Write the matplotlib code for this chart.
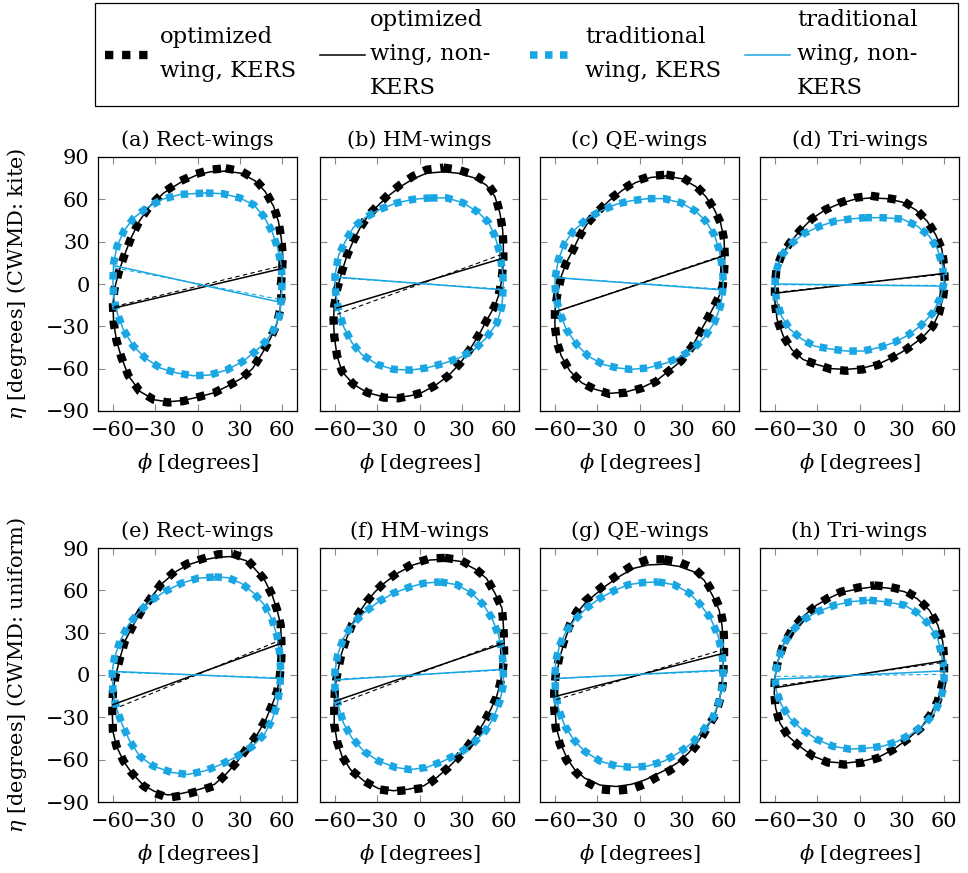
import numpy as np
import matplotlib
matplotlib.use('Agg')
import matplotlib.pyplot as plt
from matplotlib.lines import Line2D
from matplotlib.patches import Rectangle

plt.rcParams['font.family'] = ['DejaVu Serif']
plt.rcParams['mathtext.fontset'] = 'dejavuserif'
plt.rcParams['font.size'] = 15

BLUE = '#19A6E3'

panel_titles = ['(a) Rect-wings', '(b) HM-wings', '(c) QE-wings', '(d) Tri-wings',
                '(e) Rect-wings', '(f) HM-wings', '(g) QE-wings', '(h) Tri-wings']
row_labels = [r'$\eta$ [degrees] (CWMD: kite)', r'$\eta$ [degrees] (CWMD: uniform)']
x_label = r'$\phi$ [degrees]'
series_labels = ['optimized\nwing, KERS', 'optimized\nwing, non-\nKERS',
                 'traditional\nwing, KERS', 'traditional\nwing, non-\nKERS']
phi_ticks = [-60, -30, 0, 30, 60]
eta_ticks = [-90, -60, -30, 0, 30, 60, 90]

# ---------------- (a) Rect-wings, kite ----------------
a_opt_kers = [(20, 82), (31, 80), (41, 74), (48, 66), (54, 55), (57.5, 44), (59.5, 32), (60.5, 20), (60, 8), (59, -2),
              (59.5, -10), (58.5, -19), (56, -29), (52, -38), (46, -49), (39, -60), (31, -67), (22, -72), (12, -77),
              (1, -80), (-10, -83), (-21, -84), (-31, -82), (-41, -76), (-49, -65), (-54, -52), (-57.5, -40),
              (-59.5, -27), (-60, -15), (-59, -4), (-56, 8), (-52, 20), (-47, 33), (-41, 45), (-34, 55), (-24, 65),
              (-12, 73), (-1, 78), (9, 81)]
a_opt_non = [(20, 80), (31, 78.5), (41, 73), (48, 65.5), (54, 55), (57.5, 44), (59.5, 32), (60.5, 20), (60, 8), (59, -2),
             (59.5, -10), (58.5, -19), (56, -29), (52, -38), (46, -49), (39, -60), (31, -67), (22, -72), (12, -77),
             (1, -80), (-10, -82.5), (-21, -83.5), (-31, -82), (-41, -76), (-49, -65), (-54, -52), (-57.5, -40),
             (-59.5, -27), (-60, -15), (-59, -4), (-56, 8), (-52, 20), (-47, 33), (-41, 45), (-34, 55), (-24, 64.5),
             (-12, 72), (-1, 77), (9, 79.5)]
a_trad_kers = [(6, 64.5), (18, 64), (30, 61), (40, 56), (47, 48), (53, 37), (57, 25), (59.5, 13), (60, 1), (59.5, -11),
               (58, -23), (54.5, -32), (49, -40), (42, -47), (32, -55), (20.5, -61), (8.5, -64.5), (-3, -65),
               (-15, -63), (-26.5, -59.5), (-37, -52.5), (-45.5, -44), (-52.5, -32.5), (-57, -20.5), (-59.5, -9),
               (-60, 3), (-59.5, 15), (-57, 27), (-52, 38), (-45, 47), (-36, 54), (-25, 60), (-12, 63.5)]
a_trad_non = [(6, 64.5), (18, 64), (30, 61), (40, 56), (47, 48), (53, 37), (57, 25), (59.5, 13), (60, 1), (59.5, -11),
              (58, -23), (54.5, -32), (49, -40), (42, -47), (32, -55), (20.5, -61), (8.5, -64.5), (-3, -65),
              (-15, -63), (-26.5, -59.5), (-37, -52.5), (-45.5, -44), (-52.5, -32.5), (-57, -20.5), (-59.5, -9),
              (-60, 3), (-59.5, 15), (-57, 27), (-52, 38), (-45, 47), (-36, 54), (-25, 60), (-12, 63.5)]
a_opt_kers_axis = [(-59, -16), (60, 13)]
a_opt_non_axis = [(-59, -17), (60, 11)]
a_trad_kers_axis = [(-59, 11.5), (59, -11)]
a_trad_non_axis = [(-59, 13), (59, -13)]

# ---------------- (b) HM-wings, kite ----------------
b_opt_kers = [(17, 82.5), (27.5, 81), (39.5, 77), (47.5, 72), (53.5, 63.5), (57, 50.5), (59, 38.5), (59.5, 27),
              (59.5, 15), (58, 1), (56, -8.5), (53.5, -15.5), (47.5, -26), (43, -34.5), (36, -46), (29, -56),
              (20.5, -65), (11, -72), (1.5, -77), (-5.5, -79), (-15, -81), (-25.5, -80.5), (-37, -77), (-47, -71),
              (-55, -62), (-58.5, -51), (-60.5, -37), (-61, -25), (-60.5, -15.5), (-58.5, -4), (-55, 9), (-51.5, 20),
              (-47, 30.5), (-42, 40), (-36, 49), (-28, 57.5), (-22, 63.5), (-13.5, 70.5), (-4.5, 76.5), (5, 81)]
b_opt_non = [(17, 79.5), (27.5, 78.5), (39.5, 75), (47.5, 70), (53.5, 62), (57, 50.5), (59, 38.5), (59.5, 27),
             (59.5, 15), (58, 1), (56, -8.5), (53.5, -15.5), (47.5, -26), (43, -34.5), (36, -46), (29, -56),
             (20.5, -65), (11, -72), (1.5, -77), (-5.5, -79), (-15, -80.5), (-25.5, -80), (-37, -77), (-47, -71),
             (-55, -62), (-58.5, -51), (-60.5, -37), (-61, -25), (-60.5, -15.5), (-58.5, -4), (-55, 9), (-51.5, 20),
             (-47, 30.5), (-42, 40), (-36, 49), (-28, 57), (-22, 62.5), (-13.5, 69), (-4.5, 74.5), (5, 78.5)]
b_trad_kers = [(7.5, 61), (19.5, 61), (31, 57.5), (42, 50.5), (49, 43.5), (53.5, 34), (57, 22), (59, 8), (59.5, -1.5),
               (58.5, -15.5), (55, -27.5), (47.5, -38), (39.5, -46), (29, -52), (18, -56), (5, -59.5), (-6.5, -61),
               (-18.5, -60.5), (-30, -57), (-41, -50), (-48, -41.5), (-54, -30), (-57.5, -18), (-59.5, -6),
               (-60, 5.5), (-57.5, 20), (-52.5, 30.5), (-47, 40), (-38.5, 47), (-28, 53), (-16, 57.5), (-4.5, 60)]
b_trad_non = [(7.5, 61), (19.5, 61), (31, 57.5), (42, 50.5), (49, 43.5), (53.5, 34), (57, 22), (59, 8), (59.5, -1.5),
              (58.5, -15.5), (55, -27.5), (47.5, -38), (39.5, -46), (29, -52), (18, -56), (5, -59.5), (-6.5, -61),
              (-18.5, -60.5), (-30, -57), (-41, -50), (-48, -41.5), (-54, -30), (-57.5, -18), (-59.5, -6),
              (-60, 5.5), (-57.5, 20), (-52.5, 30.5), (-47, 40), (-38.5, 47), (-28, 53), (-16, 57.5), (-4.5, 60)]
b_opt_kers_axis = [(-58.5, -21.5), (58.5, 21)]
b_opt_non_axis = [(-58.5, -17), (60, 18.5)]
b_trad_kers_axis = [(-60, 4.5), (57, -3.5)]
b_trad_non_axis = [(-60, 5), (57, -4)]

# ---------------- (c) QE-wings, kite ----------------
c_opt_kers = [(19, 77.5), (30.5, 75.5), (40, 69.5), (47, 62.5), (53, 53), (57.5, 43.5), (60, 31.5), (60.5, 20), (60, 8),
              (59, -1.5), (56.5, -8.5), (53, -15.5), (48, -25), (43.5, -33), (37.5, -44), (29.5, -54.5), (21, -61.5),
              (12, -69), (2.5, -73.5), (-9.5, -77), (-21, -78), (-32, -74.5), (-41, -70), (-49.5, -61.5),
              (-55.5, -51), (-58.5, -41.5), (-60, -30), (-60, -19), (-58.5, -8.5), (-55.5, 5.5), (-52, 15),
              (-47, 24.5), (-42.5, 34), (-36.5, 43.5), (-29.5, 51.5), (-21, 60), (-12, 67), (-2.5, 73), (8, 76.5)]
c_opt_non = [(19, 76.5), (30.5, 74.5), (40, 69), (47, 62), (53, 53), (57.5, 43.5), (60, 31.5), (60.5, 20), (60, 8),
             (59, -1.5), (56.5, -8.5), (53, -15.5), (48, -25), (43.5, -33), (37.5, -44), (29.5, -54.5), (21, -61.5),
             (12, -68.5), (2.5, -73), (-9.5, -76.5), (-21, -77.5), (-32, -74.5), (-41, -70), (-49.5, -61.5),
             (-55.5, -51), (-58.5, -41.5), (-60, -30), (-60, -19), (-58.5, -8.5), (-55.5, 5.5), (-52, 15),
             (-47, 24.5), (-42.5, 34), (-36.5, 43.5), (-29.5, 51.5), (-21, 59.5), (-12, 66.5), (-2.5, 72), (8, 75.5)]
c_trad_kers = [(6, 60.5), (17.5, 60.5), (29.5, 57.5), (40, 51.5), (47, 44.5), (53, 35), (56.5, 24.5), (59, 10.5),
               (59.5, -1.5), (57.5, -15.5), (53, -27.5), (46, -38), (37.5, -46.5), (28, -52), (19, -56), (6, -59.5),
               (-6, -60.5), (-15.5, -59.5), (-26, -57), (-36.5, -51), (-44.5, -43), (-52, -32), (-56.5, -20.5),
               (-59.5, -8.5), (-60, 3.5), (-57.5, 17.5), (-53, 29), (-47, 37.5), (-37.5, 46), (-28, 51.5),
               (-16.5, 56.5), (-6, 59)]
c_trad_non = [(6, 60.5), (17.5, 60.5), (29.5, 57.5), (40, 51.5), (47, 44.5), (53, 35), (56.5, 24.5), (59, 10.5),
              (59.5, -1.5), (57.5, -15.5), (53, -27.5), (46, -38), (37.5, -46.5), (28, -52), (19, -56), (6, -59.5),
              (-6, -60.5), (-15.5, -59.5), (-26, -57), (-36.5, -51), (-44.5, -43), (-52, -32), (-56.5, -20.5),
              (-59.5, -8.5), (-60, 3.5), (-57.5, 17.5), (-53, 29), (-47, 37.5), (-37.5, 46), (-28, 51.5),
              (-16.5, 56.5), (-6, 59)]
c_opt_kers_axis = [(-59, -19.5), (60, 20.5)]
c_opt_non_axis = [(-59, -19.5), (60, 20)]
c_trad_kers_axis = [(-59, 4.5), (56.5, -3.5)]
c_trad_non_axis = [(-59, 4.5), (56.5, -4)]

# ---------------- (d) Tri-wings, kite ----------------
d_opt_kers = [(8, 62.5), (19, 61), (30.5, 59), (40, 53), (48, 44.5), (54, 35), (58.5, 24.5), (60, 13), (60.5, 1),
              (59.5, -8.5), (56.5, -20.5), (52, -30), (44.5, -38), (33, -46.5), (23.5, -52), (14, -57), (2.5, -60.5),
              (-9.5, -61.5), (-20, -60.5), (-30.5, -57), (-40, -53.5), (-48, -46.5), (-54, -37), (-58.5, -25),
              (-60, -13), (-60, -1.5), (-59, 10.5), (-55.5, 20), (-49.5, 29), (-42.5, 37.5), (-34, 46), (-24.5, 52.5),
              (-14, 57.5), (-3.5, 61)]
d_opt_non = [(8, 61), (19, 60.5), (30.5, 58), (40, 52.5), (48, 44.5), (54, 35), (58.5, 24.5), (60, 13), (60.5, 1),
             (59.5, -8.5), (56.5, -20.5), (52, -30), (44.5, -38), (33, -46.5), (23.5, -52), (14, -56.5), (2.5, -59.5),
             (-9.5, -60.5), (-20, -60), (-30.5, -57), (-40, -53.5), (-48, -46.5), (-54, -37), (-58.5, -25),
             (-60, -13), (-60, -1.5), (-59, 10.5), (-55.5, 20), (-49.5, 29), (-42.5, 37.5), (-34, 46), (-24.5, 52.5),
             (-14, 57), (-3.5, 60)]
d_trad_kers = [(3.5, 47), (16.5, 47), (30.5, 46), (41, 41), (49.5, 34), (55.5, 24.5), (59, 12.5), (60, 1),
               (57.5, -9.5), (52, -20.5), (43.5, -29.5), (34, -36.5), (24.5, -41.5), (14, -45), (2.5, -47.5),
               (-9.5, -47.5), (-21, -46), (-32, -44), (-41, -39), (-49.5, -32), (-55.5, -22.5), (-59, -11),
               (-60, -1.5), (-59.5, 8), (-55.5, 20), (-48, 29), (-39, 36), (-28, 41), (-17.5, 44.5), (-7, 46)]
d_trad_non = [(3.5, 47), (16.5, 47), (30.5, 46), (41, 41), (49.5, 34), (55.5, 24.5), (59, 12.5), (60, 1),
              (57.5, -9.5), (52, -20.5), (43.5, -29.5), (34, -36.5), (24.5, -41.5), (14, -45), (2.5, -47.5),
              (-9.5, -47.5), (-21, -46), (-32, -44), (-41, -39), (-49.5, -32), (-55.5, -22.5), (-59, -11),
              (-60, -1.5), (-59.5, 8), (-55.5, 20), (-48, 29), (-39, 36), (-28, 41), (-17.5, 44.5), (-7, 46)]
d_opt_kers_axis = [(-59.5, -6), (60, 7)]
d_opt_non_axis = [(-59.5, -6.5), (60, 7.5)]
d_trad_kers_axis = [(-59.5, -0.5), (60, -1)]
d_trad_non_axis = [(-59.5, 0), (60, -1.5)]

# ---------------- (e) Rect-wings, uniform ----------------
e_opt_kers = [(25, 86), (34.5, 82.5), (40, 76.5), (47.5, 67.5), (53, 56.5), (56.5, 46), (59, 35.5), (59.5, 24),
              (59.5, 12), (58.5, 0), (56.5, -11.5), (53, -21), (48.5, -31.5), (42.5, -42), (35.5, -51.5),
              (28.5, -61), (20, -70.5), (12, -78.5), (1.5, -82), (-11.5, -85.5), (-21, -87), (-30.5, -83.5),
              (-38.5, -78.5), (-47, -69), (-52.5, -61), (-57.5, -50.5), (-60, -40), (-60.5, -25.5), (-60, -11.5),
              (-58, 0), (-55, 12), (-51.5, 24), (-45.5, 35.5), (-40, 45), (-32.5, 55.5), (-25.5, 65), (-15, 74.5),
              (-7, 79), (4, 82.5), (14.5, 85.5)]
e_opt_non = [(25, 84), (34.5, 81), (40, 76), (47.5, 67.5), (53, 56.5), (56.5, 46), (59, 35.5), (59.5, 24),
             (59.5, 12), (58.5, 0), (56.5, -11.5), (53, -21), (48.5, -31.5), (42.5, -42), (35.5, -51.5),
             (28.5, -61), (20, -70.5), (12, -77.5), (1.5, -81), (-11.5, -84), (-21, -85), (-30.5, -82.5),
             (-38.5, -78), (-47, -69), (-52.5, -61), (-57.5, -50.5), (-60, -40), (-60.5, -25.5), (-60, -11.5),
             (-58, 0), (-55, 12), (-51.5, 24), (-45.5, 35.5), (-40, 45), (-32.5, 55.5), (-25.5, 64.5), (-15, 73.5),
             (-7, 78), (4, 81.5), (14.5, 83.5)]
e_trad_kers = [(12, 69.5), (21.5, 69), (31, 65), (40, 58), (47.5, 49.5), (53, 39), (56.5, 27.5), (58.5, 14.5),
               (59, 2.5), (58.5, -9), (56.5, -21), (53, -31.5), (47.5, -42), (39, -50.5), (28.5, -57.5),
               (16.5, -63.5), (5, -68), (-7, -70.5), (-18.5, -69), (-31.5, -64.5), (-41, -57.5), (-48, -47),
               (-53.5, -35), (-57.5, -23.5), (-60, -11.5), (-60.5, 2.5), (-59, 12), (-55, 24), (-49, 35.5),
               (-42, 44), (-34, 52), (-23.5, 59), (-11.5, 65), (0, 68.5)]
e_trad_non = [(12, 69.5), (21.5, 69), (31, 65), (40, 58), (47.5, 49.5), (53, 39), (56.5, 27.5), (58.5, 14.5),
              (59, 2.5), (58.5, -9), (56.5, -21), (53, -31.5), (47.5, -42), (39, -50.5), (28.5, -57.5),
              (16.5, -63.5), (5, -68), (-7, -70.5), (-18.5, -69), (-31.5, -64.5), (-41, -57.5), (-48, -47),
              (-53.5, -35), (-57.5, -23.5), (-60, -11.5), (-60.5, 2.5), (-59, 12), (-55, 24), (-49, 35.5),
              (-42, 44), (-34, 52), (-23.5, 59), (-11.5, 65), (0, 68.5)]
e_opt_kers_axis = [(-60, -24.5), (59.5, 25)]
e_opt_non_axis = [(-60, -21), (59.5, 22.5)]
e_trad_kers_axis = [(-59, 2), (58, -2)]
e_trad_non_axis = [(-59, 2.5), (58, -2.5)]

# ---------------- (f) HM-wings, uniform ----------------
f_opt_kers = [(18, 83), (29, 81.5), (39.5, 75.5), (47.5, 68.5), (53.5, 58), (58.5, 47.5), (59.5, 35.5), (60, 24),
              (60, 12), (59, 2.5), (57, -7), (54.5, -16), (50, -25.5), (45.5, -34), (40.5, -42), (33.5, -51.5),
              (27.5, -58.5), (20.5, -65.5), (12.5, -72.5), (3, -80), (-8, -81.5), (-18.5, -82.5), (-29, -81),
              (-39.5, -75), (-49, -67), (-55, -57.5), (-58.5, -47), (-60.5, -35), (-60.5, -21), (-60, -9),
              (-58.5, 0), (-55.5, 14.5), (-52.5, 24), (-48, 35.5), (-43, 44), (-37.5, 52), (-31.5, 59),
              (-24.5, 66), (-15, 73), (-4.5, 79), (7.5, 82.5)]
f_opt_non = [(18, 82), (29, 80.5), (39.5, 75), (47.5, 68.5), (53.5, 58), (58.5, 47.5), (59.5, 35.5), (60, 24),
             (60, 12), (59, 2.5), (57, -7), (54.5, -16), (50, -25.5), (45.5, -34), (40.5, -42), (33.5, -51.5),
             (27.5, -58.5), (20.5, -65.5), (12.5, -72.5), (3, -78.5), (-8, -81), (-18.5, -82), (-29, -80.5),
             (-39.5, -75), (-49, -67), (-55, -57.5), (-58.5, -47), (-60.5, -35), (-60.5, -21), (-60, -9),
             (-58.5, 0), (-55.5, 14.5), (-52.5, 24), (-48, 35.5), (-43, 44), (-37.5, 52), (-31.5, 59),
             (-24.5, 65.5), (-15, 72.5), (-4.5, 78), (7.5, 81.5)]
f_trad_kers = [(14.5, 66), (26.5, 64), (37, 58), (45.5, 49.5), (51.5, 40), (56, 28.5), (58.5, 16.5), (59.5, 5),
               (59.5, -7), (57, -18.5), (52.5, -30.5), (46.5, -40), (38.5, -48), (29, -55), (17, -61), (5, -65.5),
               (-6.5, -67), (-17, -65.5), (-29, -61), (-39.5, -54), (-48, -44.5), (-54, -34), (-57.5, -22),
               (-60, -9), (-60, 2.5), (-58, 14.5), (-54, 26), (-48, 35.5), (-39.5, 44), (-29, 52), (-18.5, 58),
               (-6.5, 62.5), (3, 65)]
f_trad_non = [(14.5, 66), (26.5, 64), (37, 58), (45.5, 49.5), (51.5, 40), (56, 28.5), (58.5, 16.5), (59.5, 5),
              (59.5, -7), (57, -18.5), (52.5, -30.5), (46.5, -40), (38.5, -48), (29, -55), (17, -61), (5, -65.5),
              (-6.5, -67), (-17, -65.5), (-29, -61), (-39.5, -54), (-48, -44.5), (-54, -34), (-57.5, -22),
              (-60, -9), (-60, 2.5), (-58, 14.5), (-54, 26), (-48, 35.5), (-39.5, 44), (-29, 52), (-18.5, 58),
              (-6.5, 62.5), (3, 65)]
f_opt_kers_axis = [(-59, -21), (59, 23.5)]
f_opt_non_axis = [(-60, -18.5), (60, 22.5)]
f_trad_kers_axis = [(-59, -3), (59, 3.5)]
f_trad_non_axis = [(-59, -3.5), (59, 4)]

# ---------------- (g) QE-wings, uniform ----------------
g_opt_kers = [(17.5, 82), (28, 80), (39, 75.5), (46, 68.5), (53, 56.5), (57.5, 46), (59.5, 35.5), (60, 24), (60, 12),
              (59.5, 2.5), (59, -7), (57.5, -16), (54, -28), (48, -37.5), (42.5, -47), (35.5, -56), (28, -63.5),
              (21, -68), (12, -72.5), (3.5, -77.5), (-6, -81), (-16.5, -82), (-28, -81), (-39, -75), (-46, -68),
              (-52, -60), (-56.5, -49), (-59.5, -37.5), (-60.5, -23.5), (-60.5, -11.5), (-59.5, 0), (-56.5, 14.5),
              (-53, 26), (-49.5, 35.5), (-44.5, 45), (-39, 52), (-32, 58), (-23.5, 65), (-14, 72), (-4.5, 78),
              (6, 82)]
g_opt_non = [(17.5, 78.5), (28, 77), (39, 73), (46, 67), (52, 56), (56.5, 46), (58.5, 35.5), (59.5, 24), (59.5, 12),
             (59, 2.5), (58.5, -7), (57, -16), (53.5, -28), (47.5, -37.5), (42, -46.5), (35, -55), (28, -61.5),
             (21, -66), (12, -70.5), (3.5, -74.5), (-6, -77.5), (-16.5, -79), (-28, -78), (-39, -73), (-46, -67),
             (-51.5, -59), (-56, -48.5), (-59, -37.5), (-60, -23.5), (-60, -11.5), (-59, 0), (-56, 14.5),
             (-52.5, 26), (-49, 35.5), (-44, 44.5), (-38.5, 51), (-31.5, 57), (-23.5, 63.5), (-14, 70),
             (-4.5, 75.5), (6, 78)]
g_trad_kers = [(13, 66), (24.5, 64), (35.5, 58), (43.5, 49.5), (50.5, 40), (55.5, 28.5), (58.5, 16.5), (59.5, 5),
               (59, -7), (56.5, -18.5), (52, -30.5), (44.5, -40), (37.5, -48), (28, -55), (17.5, -61), (6, -64.5),
               (-4.5, -65.5), (-16.5, -64.5), (-28, -61), (-39, -54), (-47, -45.5), (-53, -36), (-57, -25.5),
               (-59.5, -14), (-60, -2), (-59.5, 9.5), (-56.5, 21.5), (-52, 31), (-46, 39), (-37.5, 47.5),
               (-28, 54.5), (-17.5, 60), (-8, 64), (2.5, 65.5)]
g_trad_non = [(13, 66), (24.5, 64), (35.5, 58), (43.5, 49.5), (50.5, 40), (55.5, 28.5), (58.5, 16.5), (59.5, 5),
              (59, -7), (56.5, -18.5), (52, -30.5), (44.5, -40), (37.5, -48), (28, -55), (17.5, -61), (6, -64.5),
              (-4.5, -65.5), (-16.5, -64.5), (-28, -61), (-39, -54), (-47, -45.5), (-53, -36), (-57, -25.5),
              (-59.5, -14), (-60, -2), (-59.5, 9.5), (-56.5, 21.5), (-52, 31), (-46, 39), (-37.5, 47.5),
              (-28, 54.5), (-17.5, 60), (-8, 64), (2.5, 65.5)]
g_opt_kers_axis = [(-59, -17.5), (59, 18)]
g_opt_non_axis = [(-59, -15), (60, 15.5)]
g_trad_kers_axis = [(-60, -2.5), (60, 3)]
g_trad_non_axis = [(-60, -2.5), (60, 3.5)]

# ---------------- (h) Tri-wings, uniform ----------------
h_opt_kers = [(10.5, 63.5), (21, 62.5), (32, 60), (41, 54.5), (49.5, 46), (55.5, 35.5), (59, 24), (60, 12), (60, 0),
              (58, -9), (55.5, -18.5), (50.5, -28), (43.5, -37.5), (34, -45.5), (24.5, -52.5), (14, -58.5),
              (2.5, -62), (-10.5, -63.5), (-22.5, -62), (-33, -57.5), (-42.5, -50.5), (-50.5, -43.5), (-56.5, -34),
              (-59.5, -23.5), (-60.5, -12.5), (-60, -2), (-58, 9.5), (-54, 21.5), (-48, 32), (-40, 41.5),
              (-30.5, 49.5), (-22.5, 54.5), (-13, 59), (-1, 62)]
h_opt_non = [(10.5, 62.5), (21, 61.5), (32, 59), (41, 54), (49.5, 46), (55.5, 35.5), (59, 24), (60, 12), (60, 0),
             (58, -9), (55.5, -18.5), (50.5, -28), (43.5, -37.5), (34, -45.5), (24.5, -52.5), (14, -58),
             (2.5, -61), (-10.5, -62.5), (-22.5, -61.5), (-33, -57.5), (-42.5, -50.5), (-50.5, -43.5), (-56.5, -34),
             (-59.5, -23.5), (-60.5, -12.5), (-60, -2), (-58, 9.5), (-54, 21.5), (-48, 32), (-40, 41.5),
             (-30.5, 49.5), (-22.5, 54), (-13, 58.5), (-1, 61)]
h_trad_kers = [(7, 53), (17.5, 52), (32, 49.5), (41, 44), (49.5, 35.5), (55.5, 26), (58, 15.5), (60, 5), (60, -7),
               (57.5, -17.5), (53, -27), (46, -35), (36.5, -42), (27, -47), (16.5, -50.5), (4.5, -52), (-7, -52.5),
               (-19, -50.5), (-30.5, -45.5), (-41, -38.5), (-49.5, -30.5), (-55.5, -21), (-59, -11.5), (-60, -1),
               (-58, 9.5), (-54, 21.5), (-48, 31), (-40, 39), (-29.5, 45), (-17.5, 49.5), (-6, 52)]
h_trad_non = [(7, 53), (17.5, 52), (32, 49.5), (41, 44), (49.5, 35.5), (55.5, 26), (58, 15.5), (60, 5), (60, -7),
              (57.5, -17.5), (53, -27), (46, -35), (36.5, -42), (27, -47), (16.5, -50.5), (4.5, -52), (-7, -52.5),
              (-19, -50.5), (-30.5, -45.5), (-41, -38.5), (-49.5, -30.5), (-55.5, -21), (-59, -11.5), (-60, -1),
              (-58, 9.5), (-54, 21.5), (-48, 31), (-40, 39), (-29.5, 45), (-17.5, 49.5), (-6, 52)]
h_opt_kers_axis = [(-60, -8), (60, 9)]
h_opt_non_axis = [(-60, -9), (60, 10)]
h_trad_kers_axis = [(-59, -1), (61, 0.5)]
h_trad_non_axis = [(-59, -3), (61, 3)]

panels = [
    (a_opt_kers, a_opt_non, a_trad_kers, a_trad_non, a_opt_kers_axis, a_opt_non_axis, a_trad_kers_axis, a_trad_non_axis),
    (b_opt_kers, b_opt_non, b_trad_kers, b_trad_non, b_opt_kers_axis, b_opt_non_axis, b_trad_kers_axis, b_trad_non_axis),
    (c_opt_kers, c_opt_non, c_trad_kers, c_trad_non, c_opt_kers_axis, c_opt_non_axis, c_trad_kers_axis, c_trad_non_axis),
    (d_opt_kers, d_opt_non, d_trad_kers, d_trad_non, d_opt_kers_axis, d_opt_non_axis, d_trad_kers_axis, d_trad_non_axis),
    (e_opt_kers, e_opt_non, e_trad_kers, e_trad_non, e_opt_kers_axis, e_opt_non_axis, e_trad_kers_axis, e_trad_non_axis),
    (f_opt_kers, f_opt_non, f_trad_kers, f_trad_non, f_opt_kers_axis, f_opt_non_axis, f_trad_kers_axis, f_trad_non_axis),
    (g_opt_kers, g_opt_non, g_trad_kers, g_trad_non, g_opt_kers_axis, g_opt_non_axis, g_trad_kers_axis, g_trad_non_axis),
    (h_opt_kers, h_opt_non, h_trad_kers, h_trad_non, h_opt_kers_axis, h_opt_non_axis, h_trad_kers_axis, h_trad_non_axis),
]

W, H = 968, 873
fig = plt.figure(figsize=(W / 100, H / 100), dpi=100)

col_left_px = [98, 320, 540, 760]
row_top_px = [157, 548]
ax_w_px, ax_h_px = 199, 254

DOT_K = dict(color='black', lw=6.0, ls=(0, (1, 1.05)), dash_capstyle='butt')
DOT_B = dict(color=BLUE, lw=5.4, ls=(0, (1, 1.0)), dash_capstyle='butt')
SOLID_K = dict(color='black', lw=1.1)
SOLID_B = dict(color=BLUE, lw=1.1)
DASH_K = dict(color='black', lw=0.8, ls=(0, (4, 3)))
DASH_B = dict(color=BLUE, lw=0.8, ls=(0, (4, 3)))


def closed(pts):
    arr = np.asarray(pts, dtype=float)
    return np.vstack([arr, arr[:1]])


for i, data in enumerate(panels):
    r, c = divmod(i, 4)
    left = col_left_px[c] / W
    bottom = (H - row_top_px[r] - ax_h_px) / H
    ax = fig.add_axes([left, bottom, ax_w_px / W, ax_h_px / H])
    opt_kers, opt_non, trad_kers, trad_non, opt_kers_ax, opt_non_ax, trad_kers_ax, trad_non_ax = data

    p = closed(opt_non)
    ax.plot(p[:, 0], p[:, 1], **SOLID_K)
    p = closed(opt_kers)
    ax.plot(p[:, 0], p[:, 1], **DOT_K)
    p = closed(trad_non)
    ax.plot(p[:, 0], p[:, 1], **SOLID_B)
    p = closed(trad_kers)
    ax.plot(p[:, 0], p[:, 1], **DOT_B)

    for seg, sty in ((opt_non_ax, SOLID_K), (opt_kers_ax, DASH_K), (trad_non_ax, SOLID_B), (trad_kers_ax, DASH_B)):
        s = np.asarray(seg, dtype=float)
        ax.plot(s[:, 0], s[:, 1], **sty)

    ax.set_xlim(-70.6, 70.6)
    ax.set_ylim(-90, 90)
    ax.set_xticks(phi_ticks)
    ax.set_yticks(eta_ticks)
    ax.tick_params(direction='in', length=5, width=0.8, color='#8c8c8c', labelcolor='black',
                   top=True, right=True, labelsize=15)
    ax.tick_params(axis='x', pad=7)
    ax.tick_params(axis='y', pad=6)
    for sp in ax.spines.values():
        sp.set_linewidth(0.9)
        sp.set_color('black')
    if c != 0:
        ax.tick_params(labelleft=False)
    else:
        ax.set_ylabel(row_labels[r], fontsize=15)
        ax.yaxis.set_label_coords(-0.345, 0.5)
    ax.set_xlabel(x_label, fontsize=15, labelpad=8)
    ax.set_title(panel_titles[i], fontsize=15, pad=8)

# legend: one framed box with four fixed-width cells
handles = [Line2D([], [], **DOT_K), Line2D([], [], **SOLID_K),
           Line2D([], [], **DOT_B), Line2D([], [], **SOLID_B)]
entry_x_px = [105, 320, 530, 745]
entry_pad = [0.44, 0.2, 0.44, 0.3]
LEG_FS = 16.3
fig.add_artist(Rectangle((95 / W, 1 - 106 / H), 863 / W, 103 / H, transform=fig.transFigure,
                         fill=False, lw=0.9, ec='black'))
for h, lab, xp, pad in zip(handles, series_labels, entry_x_px, entry_pad):
    lg = fig.legend([h], [lab], loc='center left', bbox_to_anchor=(xp / W, 1 - 54 / H),
                    frameon=False, fontsize=LEG_FS, handlelength=2.0, handletextpad=pad,
                    borderpad=0, borderaxespad=0)
    for t in lg.get_texts():
        t.set_linespacing(1.72)

fig.savefig('out.png', dpi=100)
